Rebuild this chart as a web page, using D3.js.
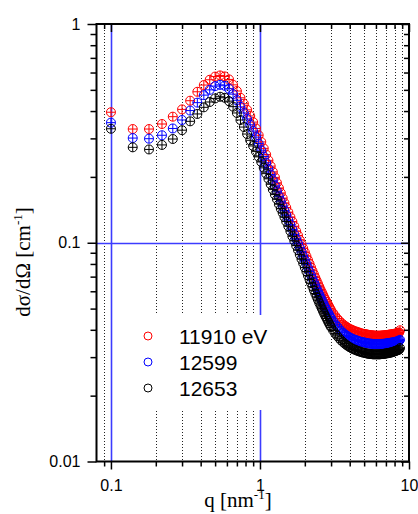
<!DOCTYPE html>
<html>
<head>
<meta charset="utf-8">
<script src="https://cdn.jsdelivr.net/npm/d3@7"></script>
<style>
body { margin: 0; background: #fff; }
</style>
</head>
<body>
<div class="canvas"></div>
<script>
// scattering vector q [nm^-1]
var q = [0.10,0.14,0.18,0.22,0.26,0.30,0.34,0.38,0.42,0.46,0.50,0.54,0.58,0.62,0.66,0.70,0.74,0.78,
         0.82,0.86,0.90,0.94,0.98,1.02,1.06,1.10,1.14,1.18,1.22,1.26,1.30,1.34,1.38,1.42,1.46,1.50,
         1.55,1.60,1.65,1.70,1.75,1.80,1.85,1.90,1.95,2.00,2.05,2.10,2.15,2.20,2.25,2.30,2.35,2.40,
         2.45,2.50,2.55,2.60,2.65,2.70,2.75,2.80,2.85,2.90,2.95,3.00,
         3.1,3.2,3.3,3.4,3.5,3.6,3.7,3.8,3.9,4.0,4.1,4.2,4.3,4.4,4.5,4.6,4.7,4.8,4.9,5.0,
         5.1,5.2,5.3,5.4,5.5,5.6,5.7,5.8,5.9,6.0,6.1,6.2,6.3,6.4,6.5,6.6,6.7,6.8,6.9,7.0,
         7.1,7.2,7.3,7.4,7.5,7.6,7.7,7.8,7.9,8.0,8.1,8.2,8.3,8.4,8.5,8.6,8.7];

var e11910 = [0.395,0.331,0.331,0.349,0.377,0.407,0.446,0.490,0.526,0.556,0.575,0.582,0.576,0.558,0.527,0.494,0.460,0.432,
              0.405,0.380,0.356,0.333,0.310,0.289,0.270,0.253,0.238,0.224,0.211,0.199,0.188,0.178,0.169,0.160,0.152,0.145,
              0.138,0.131,0.125,0.119,0.113,0.108,0.103,0.0985,0.0943,0.0904,0.0868,0.0834,0.0802,0.0772,0.0744,0.0718,0.0694,0.0671,
              0.0650,0.0630,0.0611,0.0594,0.0578,0.0563,0.0549,0.0536,0.0524,0.0513,0.0502,0.0492,
              0.0476,0.0462,0.0450,0.0440,0.0431,0.0424,0.0418,0.0413,0.0408,0.0404,0.0401,0.0398,0.0395,0.0393,0.0391,0.0389,0.0387,0.0385,0.0384,0.0383,
              0.0382,0.0381,0.0380,0.0379,0.0378,0.0378,0.0377,0.0377,0.0376,0.0376,0.0376,0.0376,0.0376,0.0376,0.0376,0.0377,0.0377,0.0377,0.0378,0.0378,
              0.0379,0.0379,0.0380,0.0380,0.0381,0.0381,0.0382,0.0382,0.0383,0.0384,0.0384,0.0385,0.0386,0.0387,0.0388,0.0389,0.0398];

var e12599 = [0.354,0.301,0.299,0.310,0.333,0.364,0.402,0.437,0.473,0.500,0.520,0.527,0.522,0.506,0.478,0.448,0.418,0.392,
              0.368,0.346,0.324,0.304,0.284,0.265,0.248,0.232,0.218,0.205,0.193,0.182,0.172,0.163,0.155,0.147,0.140,0.134,
              0.127,0.121,0.115,0.109,0.104,0.0995,0.0950,0.0908,0.0869,0.0833,0.0800,0.0768,0.0739,0.0711,0.0685,0.0661,0.0639,0.0618,
              0.0598,0.0580,0.0563,0.0547,0.0532,0.0518,0.0505,0.0493,0.0482,0.0471,0.0461,0.0452,
              0.0437,0.0424,0.0413,0.0403,0.0395,0.0388,0.0382,0.0377,0.0373,0.0369,0.0366,0.0363,0.0361,0.0359,0.0357,0.0355,0.0353,0.0352,0.0351,0.0350,
              0.0349,0.0348,0.0347,0.0346,0.0346,0.0345,0.0345,0.0344,0.0344,0.0344,0.0344,0.0344,0.0344,0.0344,0.0344,0.0345,0.0345,0.0345,0.0346,0.0346,
              0.0347,0.0347,0.0348,0.0348,0.0349,0.0349,0.0350,0.0350,0.0351,0.0352,0.0352,0.0353,0.0354,0.0355,0.0356,0.0357,0.0360];

var e12653 = [0.332,0.273,0.267,0.280,0.298,0.327,0.359,0.388,0.416,0.440,0.457,0.465,0.460,0.444,0.419,0.392,0.364,0.338,
              0.314,0.294,0.277,0.261,0.247,0.234,0.220,0.207,0.196,0.185,0.175,0.166,0.158,0.150,0.143,0.137,0.131,0.125,
              0.119,0.113,0.107,0.102,0.097,0.0925,0.0882,0.0842,0.0805,0.0770,0.0738,0.0708,0.0680,0.0654,0.0630,0.0607,0.0586,0.0566,
              0.0548,0.0531,0.0515,0.0500,0.0486,0.0473,0.0461,0.0450,0.0439,0.0429,0.0420,0.0411,
              0.0397,0.0385,0.0375,0.0366,0.0358,0.0352,0.0346,0.0341,0.0337,0.0333,0.0330,0.0327,0.0325,0.0323,0.0321,0.0319,0.0318,0.0316,0.0315,0.0314,
              0.0313,0.0312,0.0311,0.0311,0.0310,0.0310,0.0309,0.0309,0.0309,0.0309,0.0309,0.0309,0.0309,0.0309,0.0310,0.0310,0.0310,0.0311,0.0311,0.0312,
              0.0312,0.0313,0.0313,0.0314,0.0315,0.0315,0.0316,0.0317,0.0318,0.0319,0.0320,0.0321,0.0322,0.0323,0.0324,0.0325,0.0330];

var seriesNames = ["11910 eV", "12599", "12653"];
var seriesColors = ["#ff0000", "#0000ff", "#000000"];

var xMajor = [0.1, 1, 10];
var xMajorLabels = ["0.1", "1", "10"];
var xMinor = [0.09, 0.2, 0.3, 0.4, 0.5, 0.6, 0.7, 0.8, 0.9, 2, 3, 4, 5, 6, 7, 8, 9];
var yMajor = [0.01, 0.1, 1];
var yMajorLabels = ["0.01", "0.1", "1"];
var yMinor = [0.02, 0.03, 0.04, 0.05, 0.06, 0.07, 0.08, 0.09, 0.2, 0.3, 0.4, 0.5, 0.6, 0.7, 0.8, 0.9];
var xRefLines = [0.1, 1];
var yRefLines = [0.1];

var width = 418,
    height = 514;
var plotL = 96.5, plotR = 409, plotT = 24, plotB = 461.5;
var sans = "'Liberation Sans', Arial, sans-serif",
    serif = "'Liberation Serif', 'Times New Roman', serif";

var svg = d3.select(".canvas").append("svg")
            .attr("width", width)
            .attr("height", height);

var x = d3.scaleLog().domain([0.08, 10]).range([plotL, plotR]);
var y = d3.scaleLog().domain([0.01, 1]).range([plotB, plotT]);

function px(v) { return Math.round(v) + 0.5; }

// dotted grid on minor q positions
svg.append("g").selectAll("line").data(xMinor).enter().append("line")
   .attr("x1", function (d) { return px(x(d)); })
   .attr("x2", function (d) { return px(x(d)); })
   .attr("y1", plotT)
   .attr("y2", plotB)
   .attr("stroke", "#222")
   .attr("stroke-width", 1)
   .attr("stroke-dasharray", "1,2");

// blue reference lines
var refs = svg.append("g").attr("stroke", "#3c3cff").attr("stroke-width", 1.6);
refs.selectAll(".vref").data(xRefLines).enter().append("line")
    .attr("class", "vref")
    .attr("x1", function (d) { return px(x(d)); })
    .attr("x2", function (d) { return px(x(d)); })
    .attr("y1", plotT).attr("y2", plotB);
refs.selectAll(".href").data(yRefLines).enter().append("line")
    .attr("class", "href")
    .attr("x1", plotL).attr("x2", plotR)
    .attr("y1", function (d) { return px(y(d)); })
    .attr("y2", function (d) { return px(y(d)); });

// legend background hides the grid behind it
svg.append("rect")
   .attr("x", 113).attr("y", 315)
   .attr("width", 151).attr("height", 95)
   .attr("fill", "#fff");

// data: open circles with small error crosses
var r = 4.5;
[e11910, e12599, e12653].forEach(function (vals, k) {
    var g = svg.append("g")
               .attr("stroke", seriesColors[k])
               .attr("stroke-width", 1)
               .attr("fill", "none");
    q.forEach(function (qv, i) {
        var cx = x(qv), cy = y(vals[i]);
        g.append("circle").attr("cx", cx).attr("cy", cy).attr("r", r);
        g.append("line").attr("x1", cx - r).attr("x2", cx + r).attr("y1", cy).attr("y2", cy);
        g.append("line").attr("x1", cx).attr("x2", cx).attr("y1", cy - r).attr("y2", cy + r);
    });
});

// axes
function styleAxis(g) {
    g.select(".domain").remove();
    g.selectAll(".tick line").attr("stroke", "#000").attr("stroke-width", 1.5);
    g.selectAll("text").attr("font-family", sans).attr("font-size", 16).attr("fill", "#000");
}

svg.append("g").attr("transform", "translate(0," + plotB + ")")
   .call(d3.axisBottom(x).tickValues(xMajor).tickSize(8).tickPadding(10)
           .tickFormat(function (d, i) { return xMajorLabels[i]; }))
   .call(styleAxis);
svg.append("g").attr("transform", "translate(0," + plotB + ")")
   .call(d3.axisBottom(x).tickValues(xMinor).tickSize(5).tickFormat(""))
   .call(styleAxis);
svg.append("g").attr("transform", "translate(0," + plotT + ")")
   .call(d3.axisTop(x).tickValues(xMajor).tickSize(-8).tickFormat(""))
   .call(styleAxis);
svg.append("g").attr("transform", "translate(0," + plotT + ")")
   .call(d3.axisTop(x).tickValues(xMinor).tickSize(-5).tickFormat(""))
   .call(styleAxis);

svg.append("g").attr("transform", "translate(" + plotL + ",0)")
   .call(d3.axisLeft(y).tickValues(yMajor).tickSize(9).tickPadding(7)
           .tickFormat(function (d, i) { return yMajorLabels[i]; }))
   .call(styleAxis);
svg.append("g").attr("transform", "translate(" + plotL + ",0)")
   .call(d3.axisLeft(y).tickValues(yMinor).tickSize(6).tickFormat(""))
   .call(styleAxis);
svg.append("g").attr("transform", "translate(" + plotR + ",0)")
   .call(d3.axisRight(y).tickValues(yMajor).tickSize(-8).tickFormat(""))
   .call(styleAxis);
svg.append("g").attr("transform", "translate(" + plotR + ",0)")
   .call(d3.axisRight(y).tickValues(yMinor).tickSize(-5).tickFormat(""))
   .call(styleAxis);

svg.append("rect")
   .attr("x", plotL).attr("y", plotT)
   .attr("width", plotR - plotL).attr("height", plotB - plotT)
   .attr("fill", "none").attr("stroke", "#000").attr("stroke-width", 2);

// axis titles
var xt = svg.append("text")
            .attr("x", 238).attr("y", 507)
            .attr("text-anchor", "middle")
            .attr("font-family", serif).attr("font-size", 21);
xt.append("tspan").text("q [nm");
xt.append("tspan").attr("dy", -8).attr("font-size", 13).text("-1");
xt.append("tspan").attr("dy", 8).text("]");

var yt = svg.append("text")
            .attr("transform", "translate(30,262) rotate(-90)")
            .attr("text-anchor", "middle")
            .attr("font-family", serif).attr("font-size", 21);
yt.append("tspan").text("d\u03c3/d\u03a9 [cm");
yt.append("tspan").attr("dy", -8).attr("font-size", 13).text("-1");
yt.append("tspan").attr("dy", 8).text("]");

// legend
seriesNames.forEach(function (name, k) {
    var ly = 336 + k * 26;
    svg.append("circle")
       .attr("cx", 148).attr("cy", ly).attr("r", 4)
       .attr("fill", "none").attr("stroke", seriesColors[k]).attr("stroke-width", 1);
    svg.append("text")
       .attr("x", 179).attr("y", ly)
       .attr("dy", "0.36em")
       .attr("font-family", sans).attr("font-size", 21)
       .text(name);
});
</script>
</body>
</html>
